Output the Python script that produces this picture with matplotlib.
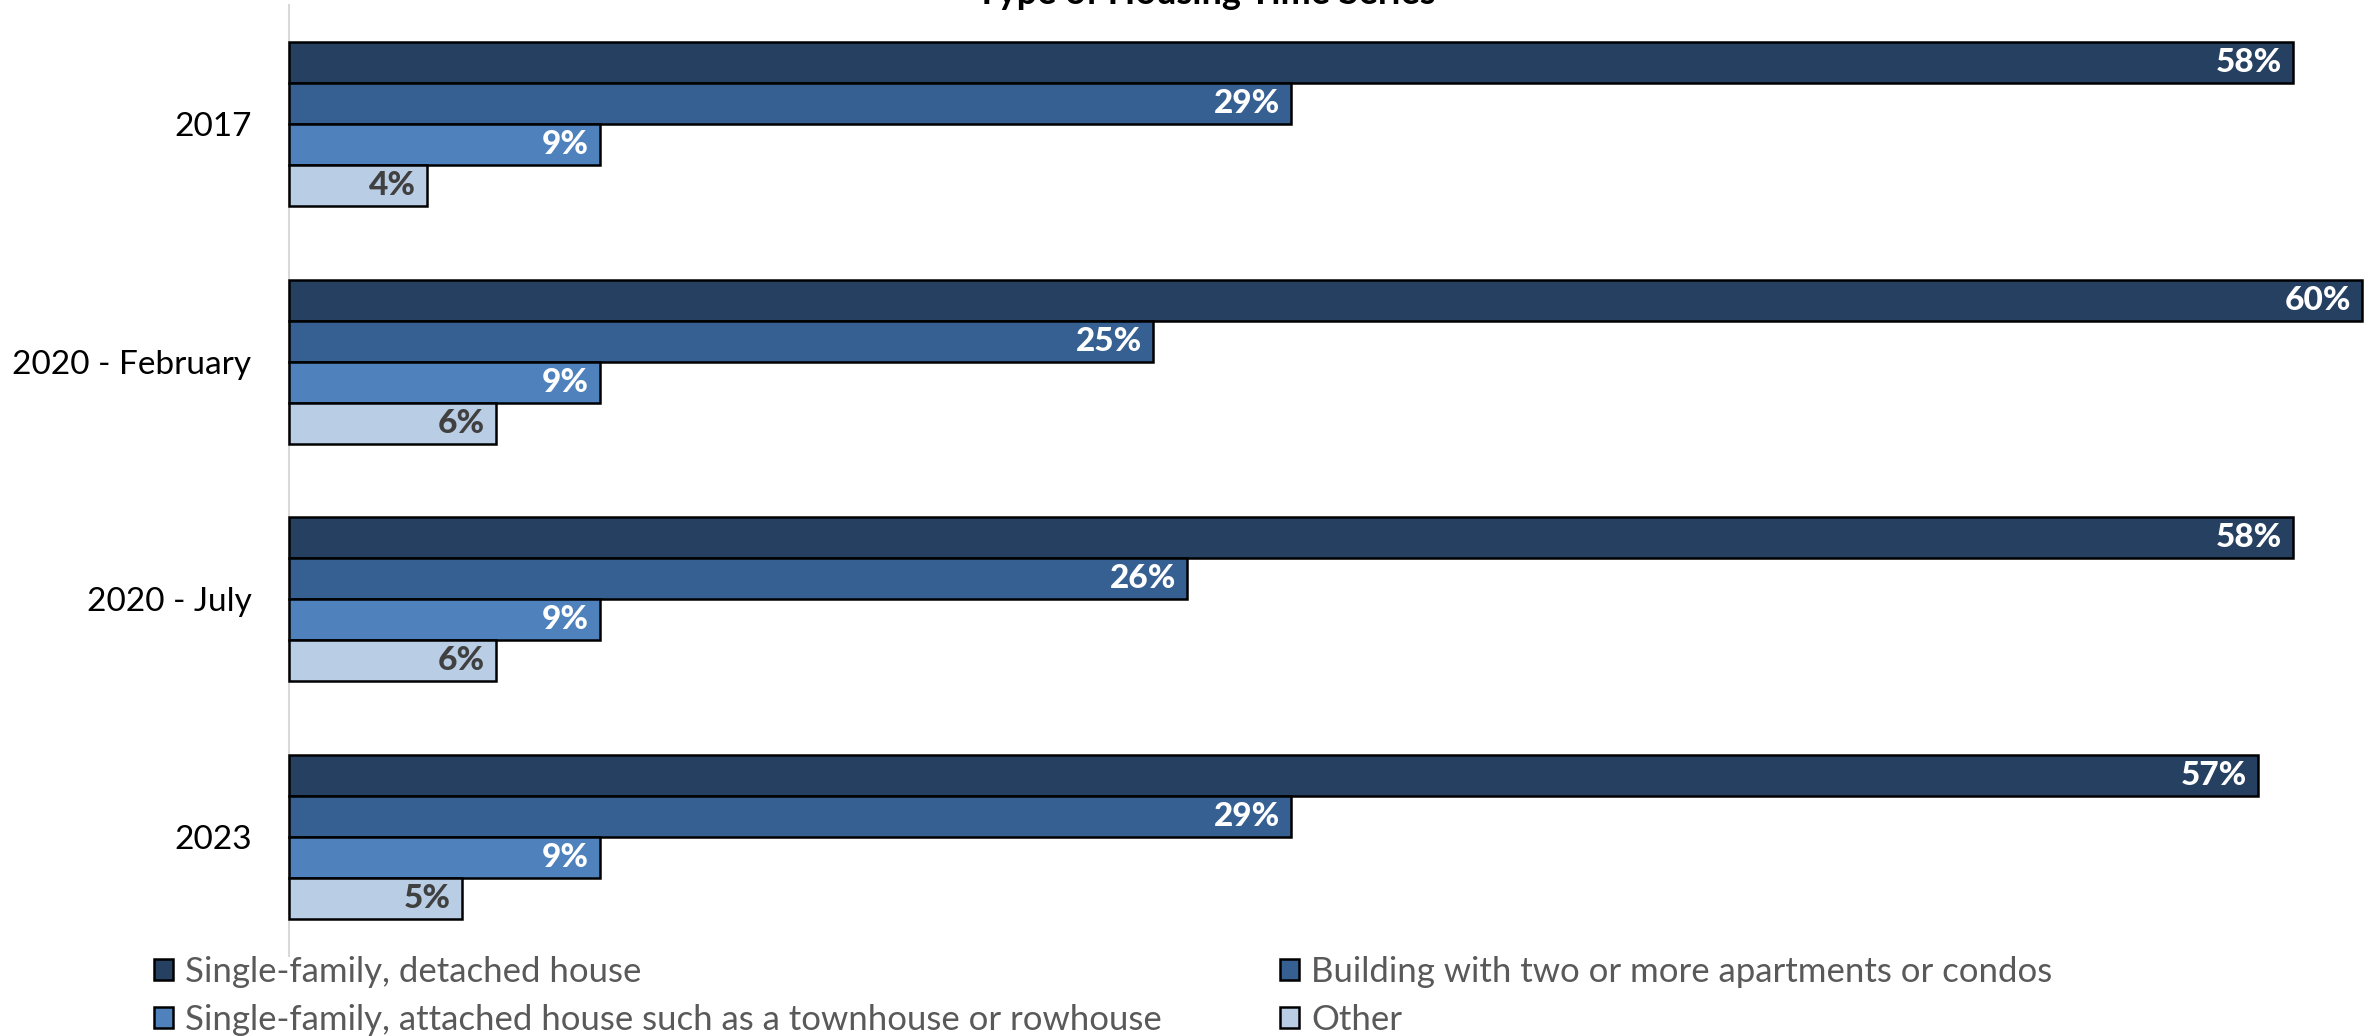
import numpy as np
import matplotlib
matplotlib.use("Agg")
import matplotlib.pyplot as plt

plt.rcParams['font.family'] = ['Lato', 'DejaVu Sans']

categories = ["2017", "2020 - February", "2020 - July", "2023"]
series_names = [
    "Single-family, detached house",
    "Building with two or more apartments or condos",
    "Single-family, attached house such as a townhouse or rowhouse",
    "Other",
]
detached = [58, 60, 58, 57]
apartments = [29, 25, 26, 29]
attached = [9, 9, 9, 9]
other = [4, 6, 6, 5]

COLORS = ["#254061", "#376092", "#4F81BD", "#B9CDE5"]
LABEL_COLORS = ["white", "white", "white", "#404040"]

fig = plt.figure(figsize=(23.74, 10.36), dpi=100)
ax = fig.add_axes([289 / 2374, 80 / 1036, (2362 - 289) / 2374, (956 - 5) / 1036])

y = np.arange(len(categories))
bar_h = 0.1725
series = [detached, apartments, attached, other]
offsets = (np.arange(4) - 1.5) * bar_h

handles = []
for i, vals in enumerate(series):
    bars = ax.barh(y + offsets[i], vals, height=bar_h, color=COLORS[i],
                   edgecolor="black", linewidth=1.8, label=series_names[i],
                   clip_on=False, zorder=3)
    handles.append(bars)
    for b, v in zip(bars, vals):
        ax.annotate(f"{v}%", (v, b.get_y() + b.get_height() / 2),
                    xytext=(-8, 0), textcoords="offset points",
                    ha="right", va="center", fontsize=24, fontweight="black",
                    color=LABEL_COLORS[i], zorder=4)

ax.set_xlim(0, 60)
ax.set_ylim(3.5, -0.5)
ax.set_yticks(y)
ax.set_yticklabels(categories, fontsize=24)
ax.tick_params(axis="y", length=0, pad=27)
ax.set_xticks([])
for s in ["top", "right", "bottom"]:
    ax.spines[s].set_visible(False)
ax.spines["left"].set_color("#D9D9D9")
ax.spines["left"].set_linewidth(1.5)

fig.text(0.508, 0.996, "Type of Housing Time Series", ha="center", va="baseline",
         fontsize=26, fontweight="bold")

# legend rows: detached | apartments, attached | other
order = [0, 2, 1, 3]
leg = fig.legend([handles[k] for k in order], [series_names[k] for k in order],
                 loc="upper left", bbox_to_anchor=(140 / 2374, 94 / 1036),
                 ncol=2, frameon=False, fontsize=25, handlelength=0.55,
                 handleheight=0.55, handletextpad=0.35, columnspacing=3.4,
                 labelspacing=0.47, borderaxespad=0)
for t in leg.get_texts():
    t.set_color("#595959")

fig.savefig("out.png", dpi=100)
